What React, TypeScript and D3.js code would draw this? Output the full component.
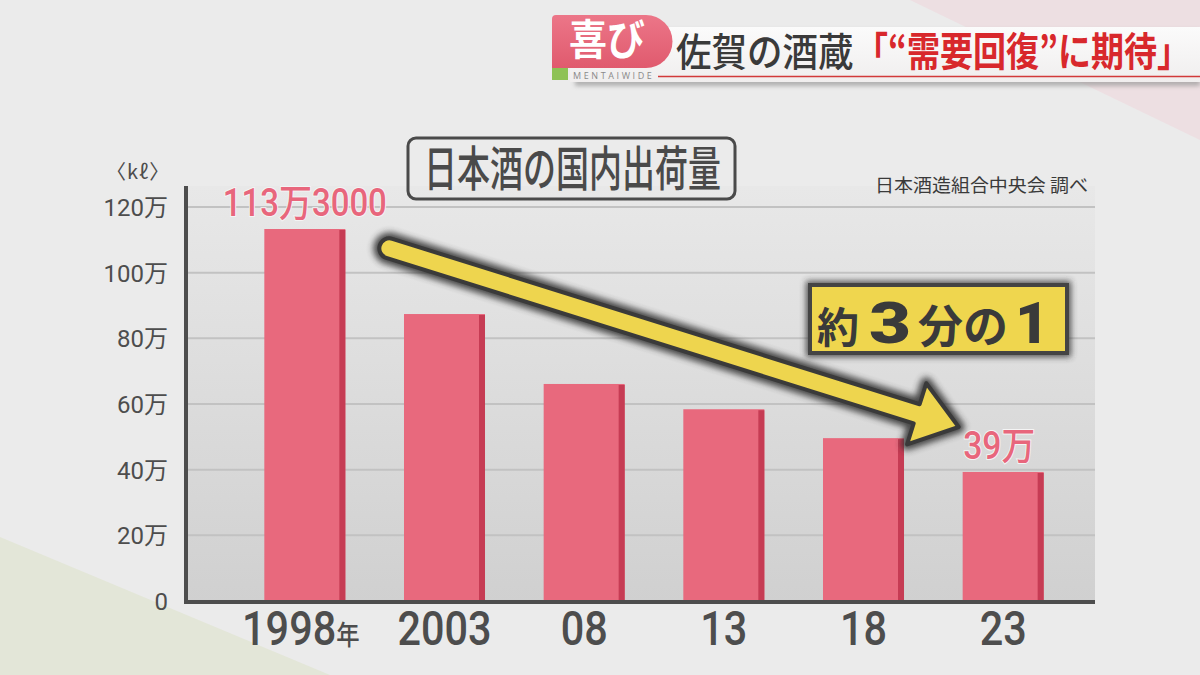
import React from 'react';
import * as d3 from 'd3';

// ---- data (万kℓ) ----
const categories = ['1998', '2003', '08', '13', '18', '23'];
const categorySuffix = ['年', '', '', '', '', ''];
const values = [113.3, 87.4, 66.1, 58.4, 49.6, 39.3];
const yTicks = [0, 20, 40, 60, 80, 100, 120];
const yTickLabels = ['0', '20万', '40万', '60万', '80万', '100万', '120万'];
const labelIndices = [0, 5];
const labelTexts = ['113万3000', '39万'];
const labelLengths = [164, 72];

const JP = '"Noto Sans CJK JP", "Noto Sans", sans-serif';
const NUM = 'Roboto, "Noto Sans CJK JP", sans-serif';

export default function App() {
  const x = d3.scaleBand<string>().domain(categories).range([235, 1073]).paddingInner(0.42).paddingOuter(0.21);
  const y = d3.scaleLinear().domain([0, 120]).range([601, 207]);
  const bw = x.bandwidth();
  const plotL = 186, plotR = 1095, plotT = 186, plotB = 602;

  // arrow geometry derived from scales
  const sx = (x(categories[0]) as number) + bw + 44;
  const sy = y(107.4);
  const ex = (x(categories[5]) as number) - 4;
  const ey = y(53.0);
  const dx = ex - sx, dy = ey - sy;
  const L = Math.sqrt(dx * dx + dy * dy);
  const ang = (Math.atan2(dy, dx) * 180) / Math.PI;
  const hw = 10, headLen = 44, headHw = 32;
  const arrowPath = `M0,${-hw} L${L - headLen},${-hw} L${L - headLen},${-headHw} L${L},0 L${L - headLen},${headHw} L${L - headLen},${hw} L0,${hw} A${hw},${hw} 0 0 1 0,${-hw} Z`;

  return (
    <svg width={1200} height={675} style={{ position: 'absolute', left: 0, top: 0 }} fontFamily={JP}>
      <defs>
        <linearGradient id="plotbg" x1="0" y1="0" x2="0" y2="1">
          <stop offset="0" stopColor="#e8e8e8" />
          <stop offset="1" stopColor="#d0d0d0" />
        </linearGradient>
        <linearGradient id="tab" x1="0" y1="0" x2="0" y2="1">
          <stop offset="0" stopColor="#ec7688" />
          <stop offset="1" stopColor="#e05a6e" />
        </linearGradient>
        <linearGradient id="strip" x1="0" y1="0" x2="0" y2="1">
          <stop offset="0" stopColor="#fbfbfb" />
          <stop offset="1" stopColor="#f0eeee" />
        </linearGradient>
        <filter id="blur" x="-20%" y="-50%" width="140%" height="200%">
          <feGaussianBlur stdDeviation="3" />
        </filter>
        <filter id="blur2" x="-20%" y="-50%" width="140%" height="200%">
          <feGaussianBlur stdDeviation="2" />
        </filter>
      </defs>

      {/* background */}
      <rect x={0} y={0} width={1200} height={675} fill="#ebebeb" />
      <polygon points="910,0 1200,0 1200,140" fill="#eddfe2" />
      <polygon points="0,537 330,675 0,675" fill="#e3e6d8" />

      {/* banner */}
      <rect x={575} y={30} width={625} height={56} fill="#9a9a9a" filter="url(#blur2)" opacity={0.7} />
      <rect x={570} y={27} width={630} height={55} fill="url(#strip)" />
      <line x1={658} y1={76.5} x2={1200} y2={76.5} stroke="#d23a3a" strokeWidth={1.5} />
      <polygon points="552,66 568,66 568,80 552,80" fill="#8dc255" />
      <path d="M556,15 L646,15 A24,24 0 0 1 646,68 L552,68 L552,19 A4,4 0 0 1 556,15 Z" fill="url(#tab)" />
      <text transform="translate(607,55) scale(1,1.1)" textAnchor="middle" fontSize={38} fontWeight={700} fill="#ffffff">喜び</text>
      <text x={573} y={79} fontSize={9} fill="#8a8a8a" letterSpacing={2.6} fontFamily="'Open Sans', sans-serif">MENTAIWIDE</text>
      <text transform="translate(676,66) scale(1,1.08)" fontSize={35.5} fontWeight={500} fill="#3a3a3a">佐賀の酒蔵</text>
      <text transform="translate(855,66) scale(1,1.2)" fontSize={33.5} fontWeight={700} fill="#d8282c" textLength={335} lengthAdjust="spacingAndGlyphs">「“需要回復”に期待」</text>

      {/* plot background */}
      <rect x={plotL} y={plotT} width={plotR - plotL} height={plotB - plotT} fill="url(#plotbg)" />
      {yTicks.filter((t) => t > 0).map((t) => (
        <line key={t} x1={plotL} x2={plotR} y1={y(t)} y2={y(t)} stroke="#c2c2c2" strokeWidth={2} />
      ))}

      {/* bars */}
      {categories.map((c, i) => {
        const bx = x(c) as number;
        const by = y(values[i]);
        const h = y(0) - by;
        return (
          <g key={c}>
            <rect x={bx} y={by} width={bw} height={h} fill="#e8697d" />
            <rect x={bx + bw - 6} y={by + 1} width={6} height={h - 1} fill="#c63c54" />
          </g>
        );
      })}

      {/* axes */}
      <line x1={plotL} x2={plotL} y1={plotT} y2={plotB + 2} stroke="#4d4d4d" strokeWidth={4} />
      <line x1={plotL - 2} x2={plotR} y1={plotB} y2={plotB} stroke="#4d4d4d" strokeWidth={4} />

      {/* y tick labels */}
      {yTicks.map((t, i) => (
        <text key={t} x={168} y={y(t) + 9} textAnchor="end" fontSize={24} fill="#4d4d4d" fontFamily={NUM}>{yTickLabels[i]}</text>
      ))}
      <text x={106} y={179} fontSize={20} fill="#4d4d4d" letterSpacing={1}>〈kℓ〉</text>

      {/* x labels */}
      {categories.map((c, i) => (
        <text key={c} transform={`translate(${(x(c) as number) + bw / 2 + (categorySuffix[i] ? -4 : 0)},645) scale(0.9,1.05)`} textAnchor="middle" fontSize={46} fontWeight={500} fill="#4d4d4d" fontFamily={NUM}>
          {c}
          {categorySuffix[i] && <tspan fontSize={26} fontFamily={JP}>{categorySuffix[i]}</tspan>}
        </text>
      ))}

      {/* title */}
      <rect x={408} y={138} width={327} height={61} rx={8} fill="none" stroke="#4a4a4a" strokeWidth={3} />
      <text transform="translate(424,186) scale(1,1.45)" fontSize={33} fontWeight={500} fill="#4a4a4a" textLength={297} lengthAdjust="spacingAndGlyphs">日本酒の国内出荷量</text>
      <text x={875} y={192} fontSize={18} fill="#3a3a3a" textLength={213} lengthAdjust="spacingAndGlyphs">日本酒造組合中央会 調べ</text>

      {/* value labels */}
      {labelIndices.map((idx, k) => (
        <text key={idx} x={(x(categories[idx]) as number) + bw / 2 + (k === 1 ? -4 : 0)} y={y(values[idx]) - 13} textAnchor="middle" fontSize={38} fontWeight={500} fill="#e8667c" stroke="#f4f4f4" strokeWidth={2} paintOrder="stroke" textLength={labelLengths[k]} lengthAdjust="spacingAndGlyphs" fontFamily={NUM}>
          {labelTexts[k]}
        </text>
      ))}

      {/* arrow */}
      <g transform={`translate(${sx},${sy}) rotate(${ang})`}>
        <path d={arrowPath} fill="#2e2e2e" stroke="#2e2e2e" strokeWidth={12} strokeLinejoin="round" filter="url(#blur)" opacity={0.85} />
        <path d={arrowPath} fill="#eed54e" stroke="#3a3a3a" strokeWidth={4} strokeLinejoin="round" />
      </g>

      {/* badge */}
      <rect x={806} y={281} width={265} height={76} fill="#2e2e2e" filter="url(#blur)" opacity={0.8} />
      <rect x={810} y={285} width={257} height={68} fill="#efd64e" stroke="#444444" strokeWidth={4} />
      <g fill="#3a3a3a" fontWeight={700}>
        <text x={817} y={343} fontSize={42}>約</text>
        <text transform="translate(890,343) scale(1.25,1)" textAnchor="middle" fontSize={58} fontWeight={900} fontFamily={NUM}>3</text>
        <text x={918} y={343} fontSize={45}>分の</text>
        <text x={1032} y={343} fontSize={58} fontWeight={900} textAnchor="middle" fontFamily={NUM}>1</text>
      </g>
    </svg>
  );
}
